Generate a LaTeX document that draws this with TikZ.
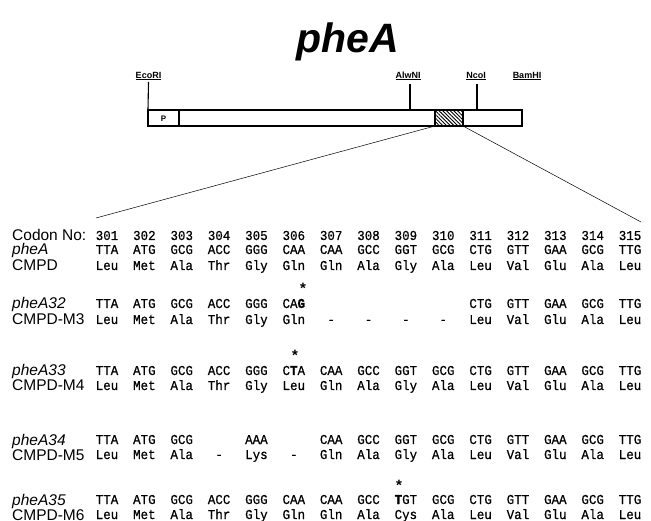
\documentclass[tikz,border=0pt]{standalone}
\usepackage{fontspec}
\setmainfont{Liberation Sans}
\newfontfamily\codfont{Liberation Mono}[FakeBold=0.6,FakeStretch=0.92,BoldFeatures={FakeBold=1.2}]
\usetikzlibrary{patterns.meta}
\newcommand\codrow[3]{%
  \foreach \t [count=\i] in {#3} {%
    \node[cd] (#1-\i) at ({107+37.36*(\i-1)},#2) {\t};%
  }%
}
\begin{document}
\begin{tikzpicture}[x=1pt,y=-1pt,
  cd/.style={font=\codfont\fontsize{13.6}{15}\selectfont, anchor=base, inner sep=0pt},
  lab/.style={font=\fontsize{15.5}{17}\selectfont, anchor=base west, inner sep=0pt},
  ilab/.style={font=\fontsize{15.5}{17}\selectfont\itshape, anchor=base west, inner sep=0pt},
  star/.style={font=\fontsize{15}{16}\selectfont\bfseries, anchor=base, inner sep=0pt},
  site/.style={font=\fontsize{9}{10}\selectfont\bfseries, inner sep=1.5pt},
  bar/.style={line width=1.1pt},
  proj/.style={line width=0.5pt},
]
\useasboundingbox[fill=white] (0,0) rectangle (651,521);

% title
\node[font=\fontsize{41}{45}\selectfont\bfseries\itshape] (title) at (348,42) {pheA};

% plasmid map
\coordinate (barNW) at (148,110);
\coordinate (barSE) at (522,126);
\coordinate (pR) at (179,110);
\coordinate (pRb) at (179,126);
\coordinate (hNW) at (435,110);
\coordinate (hSE) at (463,126);
\coordinate (hSW) at (435,126);
\path[pattern={Lines[angle=-45,distance=2.6pt,line width=0.9pt]}] (hNW) rectangle (hSE);
\draw[bar] (hNW) rectangle (hSE);
\draw[bar] (barNW) rectangle (barSE);
\draw[bar] (pR) -- (pRb);
\node[font=\fontsize{8}{9}\selectfont\bfseries] (P) at (163.5,118.5) {P};

\node[site] (eco) at (148.5,76) {\underline{EcoRI}};
\node[site] (alw) at (408,76) {\underline{AlwNI}};
\node[site] (nco) at (476,76) {\underline{NcoI}};
\node[site] (bam) at (527,76) {\underline{BamHI}};
\coordinate (ecoB) at (148,110);
\coordinate (alwT) at (410,84);
\coordinate (alwB) at (410,110);
\coordinate (ncoT) at (477,84);
\coordinate (ncoB) at (477,110);
\draw[bar] (eco.south) -- (ecoB);
\draw[bar] (alwT) -- (alwB);
\draw[bar] (ncoT) -- (ncoB);

% projection lines
\coordinate (pl) at (96,218);
\coordinate (pr) at (641,222);
\draw[proj] (hSW) -- (pl);
\draw[proj] (hSE) -- (pr);

% labels
\node[lab] (lcod) at (12,241) {Codon No:};
\node[ilab] (l1) at (12,255) {pheA};
\node[lab] (l2) at (12,271) {CMPD};
\node[ilab] (l3) at (12,309) {pheA32};
\node[lab] (l4) at (12,325) {CMPD-M3};
\node[ilab] (l5) at (12,376) {pheA33};
\node[lab] (l6) at (12,391) {CMPD-M4};
\node[ilab] (l7) at (12,445) {pheA34};
\node[lab] (l8) at (12,460) {CMPD-M5};
\node[ilab] (l9) at (12,505) {pheA35};
\node[lab] (l10) at (12,520) {CMPD-M6};

% rows
\codrow{num}{240}{301,302,303,304,305,306,307,308,309,310,311,312,313,314,315}
\codrow{wt}{254}{TTA,ATG,GCG,ACC,GGG,CAA,CAA,GCC,GGT,GCG,CTG,GTT,GAA,GCG,TTG}
\codrow{wtaa}{270}{Leu,Met,Ala,Thr,Gly,Gln,Gln,Ala,Gly,Ala,Leu,Val,Glu,Ala,Leu}

\node[star] (s1) at (303,294) {*};
\codrow{m3}{308}{TTA,ATG,GCG,ACC,GGG,CA\textbf{G},{},{},{},{},CTG,GTT,GAA,GCG,TTG}
\codrow{m3aa}{324}{Leu,Met,Ala,Thr,Gly,Gln,-,-,-,-,Leu,Val,Glu,Ala,Leu}

\node[star] (s2) at (295,361) {*};
\codrow{m4}{375}{TTA,ATG,GCG,ACC,GGG,C\textbf{T}A,CAA,GCC,GGT,GCG,CTG,GTT,GAA,GCG,TTG}
\codrow{m4aa}{390}{Leu,Met,Ala,Thr,Gly,Leu,Gln,Ala,Gly,Ala,Leu,Val,Glu,Ala,Leu}

\codrow{m5}{444}{TTA,ATG,GCG,{},AAA,{},CAA,GCC,GGT,GCG,CTG,GTT,GAA,GCG,TTG}
\codrow{m5aa}{459}{Leu,Met,Ala,-,Lys,-,Gln,Ala,Gly,Ala,Leu,Val,Glu,Ala,Leu}

\node[star] (s3) at (399,490) {*};
\codrow{m6}{504}{TTA,ATG,GCG,ACC,GGG,CAA,CAA,GCC,\textbf{T}GT,GCG,CTG,GTT,GAA,GCG,TTG}
\codrow{m6aa}{519}{Leu,Met,Ala,Thr,Gly,Gln,Gln,Ala,Cys,Ala,Leu,Val,Glu,Ala,Leu}
\end{tikzpicture}
\end{document}
